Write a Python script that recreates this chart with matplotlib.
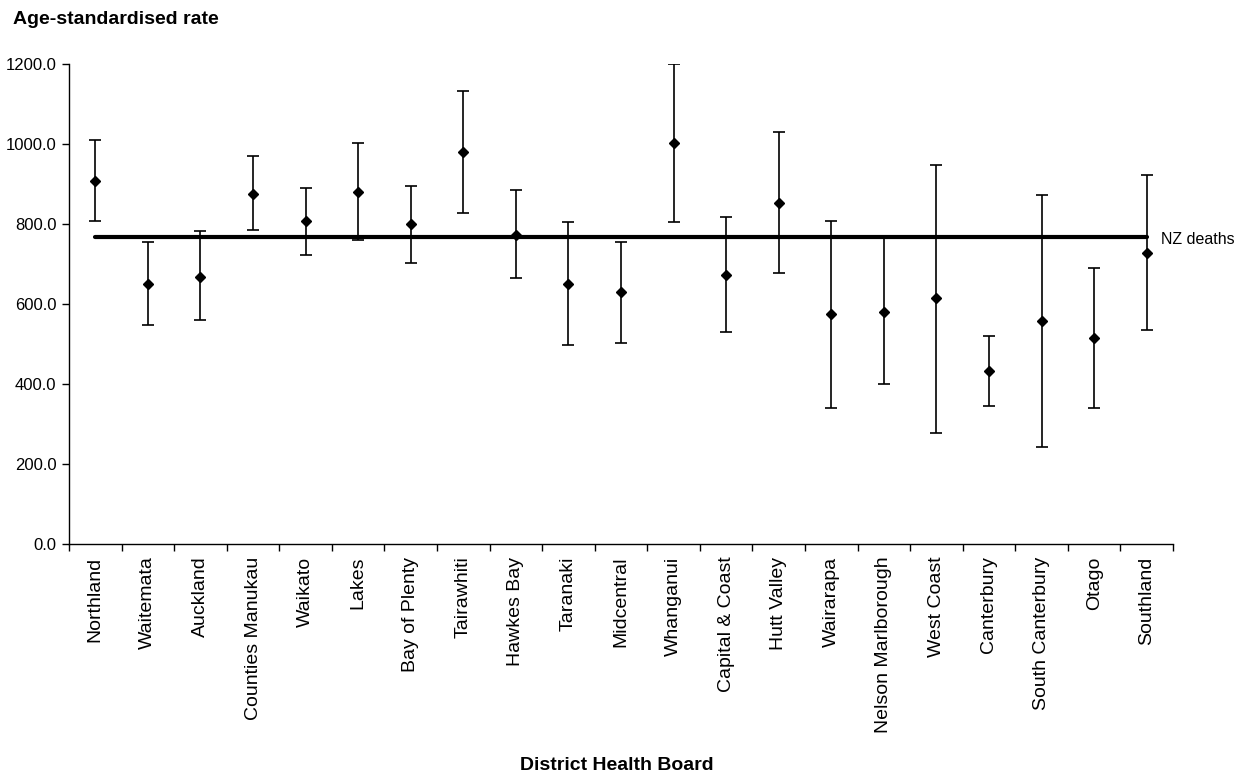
import matplotlib.pyplot as plt
import numpy as np
from matplotlib.ticker import FixedLocator, FormatStrFormatter

plt.rcParams['font.family'] = ['Liberation Sans', 'DejaVu Sans']

# Age-standardised death rates by District Health Board, with 95% CI
dhb_names = ['Northland', 'Waitemata', 'Auckland', 'Counties Manukau', 'Waikato',
             'Lakes', 'Bay of Plenty', 'Tairawhiti', 'Hawkes Bay', 'Taranaki',
             'Midcentral', 'Whanganui', 'Capital & Coast', 'Hutt Valley', 'Wairarapa',
             'Nelson Marlborough', 'West Coast', 'Canterbury', 'South Canterbury',
             'Otago', 'Southland']
rates = [907, 651, 668, 876, 808, 879, 799, 979, 772, 651, 629,
         1002, 673, 853, 575, 579, 616, 432, 557, 516, 727]
ci_lower = [808, 548, 561, 786, 723, 760, 702, 827, 665, 498, 502,
            804, 530, 677, 341, 399, 278, 346, 242, 341, 535]
ci_upper = [1010, 755, 782, 971, 890, 1002, 894, 1132, 885, 804, 755,
            1200, 817, 1029, 808, 767, 948, 520, 872, 691, 922]
nz_rate = 768.0

x = np.arange(len(dhb_names))
rates_arr = np.array(rates, dtype=float)
yerr = [rates_arr - np.array(ci_lower), np.array(ci_upper) - rates_arr]

fig = plt.figure(figsize=(12.46, 7.75), dpi=100)
ax = fig.add_axes([69 / 1246, 1 - 544 / 775, (1173 - 69) / 1246, (544 - 64) / 775])

# national rate reference line
ax.plot(x, [nz_rate] * len(x), color='black', lw=3, zorder=2, solid_capstyle='round')
ax.text(x[-1] + 0.27, nz_rate - 6, 'NZ deaths', fontsize=11.5, va='center', ha='left')

ax.errorbar(x, rates_arr, yerr=yerr, fmt='D', color='black', ms=5.5,
            elinewidth=1.2, capsize=4.5, capthick=1.2, zorder=3)

ax.set_xlim(-0.5, len(x) - 0.5)
ax.set_ylim(0, 1200)
ax.set_yticks(np.arange(0, 1201, 200))
ax.yaxis.set_major_formatter(FormatStrFormatter('%.1f'))

ax.set_xticks(x)
ax.set_xticklabels(dhb_names, rotation=90, fontsize=14, va='top', ha='center')
ax.xaxis.set_minor_locator(FixedLocator(np.arange(-0.5, len(x), 1.0)))
ax.tick_params(axis='x', which='major', length=0, pad=9)
ax.tick_params(axis='x', which='minor', length=5, width=1, direction='out')
ax.tick_params(axis='y', length=5, width=1, labelsize=12, pad=4)

for side in ['top', 'right']:
    ax.spines[side].set_visible(False)
ax.spines['left'].set_linewidth(1)
ax.spines['bottom'].set_linewidth(1)

fig.text(13 / 1246, 1 - 20 / 775, 'Age-standardised rate', fontsize=14,
         fontweight='bold', ha='left', va='center')
fig.text(617 / 1246, 1 - 765 / 775, 'District Health Board', fontsize=14,
         fontweight='bold', ha='center', va='center')

fig.savefig('out.png', dpi=100)
